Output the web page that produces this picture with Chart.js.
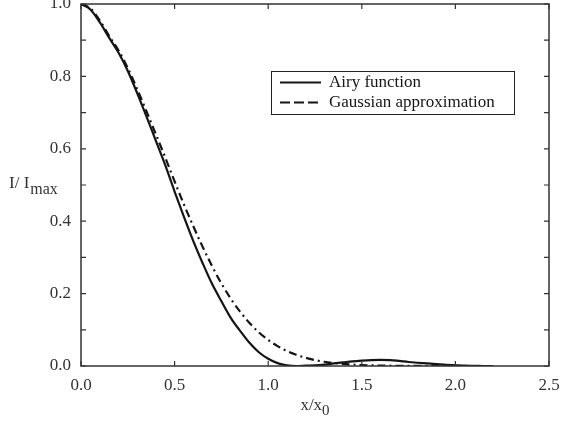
<!DOCTYPE html>
<html lang="en">
<head>
    <meta charset="UTF-8">
    <title>Airy function vs Gaussian approximation</title>
    <style>
        body { margin: 0; background: #fff; }
        canvas { display: block; }
    </style>
</head>
<body>
    <canvas id="airyChart" width="571" height="423"></canvas>

    <script src="https://cdn.jsdelivr.net/npm/chart.js@4.4.1/dist/chart.umd.min.js"></script>
    <script>
        // values
        const xValues = [0.00, 0.05, 0.10, 0.15, 0.20, 0.25, 0.30, 0.35, 0.40, 0.45,
                         0.50, 0.55, 0.60, 0.65, 0.70, 0.75, 0.80, 0.85, 0.90, 0.95,
                         1.00, 1.05, 1.10, 1.15, 1.20, 1.25, 1.30, 1.35, 1.40, 1.45,
                         1.50, 1.55, 1.60, 1.65, 1.70, 1.75, 1.80, 1.85, 1.90, 1.95,
                         2.00, 2.05, 2.10, 2.15, 2.20];
        const airy = [1.000, 0.985, 0.950, 0.907, 0.866, 0.815, 0.754, 0.689, 0.622, 0.555,
                      0.482, 0.412, 0.345, 0.284, 0.227, 0.179, 0.133, 0.097, 0.064, 0.038,
                      0.020, 0.008, 0.002, 0.000, 0.001, 0.002, 0.004, 0.007, 0.010, 0.013,
                      0.015, 0.0165, 0.017, 0.0165, 0.014, 0.011, 0.009, 0.007, 0.005, 0.003,
                      0.002, 0.001, 0.0005, 0.000, 0.000];
        const gauss = [1.000, 0.988, 0.955, 0.912, 0.872, 0.823, 0.765, 0.703, 0.640, 0.576,
                       0.510, 0.446, 0.386, 0.329, 0.276, 0.228, 0.186, 0.150, 0.119, 0.093,
                       0.072, 0.055, 0.0415, 0.031, 0.0227, 0.0164, 0.0117, 0.0083, 0.0058, 0.0040,
                       0.0027, 0.0018, 0.0012, 0.0008, 0.0005, 0.0003, 0.0002, 0.0001, 0.0001, 0.0,
                       0.0, 0.0, 0.0, 0.0, 0.0];
        const seriesNames = ['Airy function', 'Gaussian approximation'];
        const yTickLabels = ['0.0', '0.2', '0.4', '0.6', '0.8', '1.0'];

        const serif = '"Liberation Serif", "DejaVu Serif", serif';
        const ink = '#151515';

        function pts(ys) {
            return xValues.map((x, i) => ({ x: x, y: ys[i] }));
        }

        // frame, inward ticks, axis titles and legend box
        const decorations = {
            id: 'decorations',
            afterDraw(chart) {
                const ctx = chart.ctx;
                const ca = chart.chartArea;
                const xs = chart.scales.x, ys = chart.scales.y;
                ctx.save();
                ctx.strokeStyle = '#333';
                ctx.lineWidth = 1.5;
                ctx.strokeRect(ca.left, ca.top, ca.right - ca.left, ca.bottom - ca.top);

                ctx.lineWidth = 1.2;
                ctx.beginPath();
                xs.ticks.forEach(t => {
                    const px = xs.getPixelForValue(t.value);
                    ctx.moveTo(px, ca.bottom); ctx.lineTo(px, ca.bottom - 5);
                    ctx.moveTo(px, ca.top); ctx.lineTo(px, ca.top + 5);
                });
                ys.ticks.forEach(t => {
                    const py = ys.getPixelForValue(t.value);
                    ctx.moveTo(ca.left, py); ctx.lineTo(ca.left + 5, py);
                    ctx.moveTo(ca.right, py); ctx.lineTo(ca.right - 5, py);
                });
                ctx.stroke();

                // y title: I/ I_max
                ctx.fillStyle = '#333';
                ctx.textBaseline = 'alphabetic';
                ctx.textAlign = 'left';
                const yMid = (ca.top + ca.bottom) / 2;
                ctx.font = '17px ' + serif;
                ctx.fillText('I/ I', 9, yMid + 3);
                const w1 = ctx.measureText('I/ I').width;
                ctx.font = '16px ' + serif;
                ctx.fillText('max', 9 + w1 + 1, yMid + 9);

                // x title: x/x_0
                ctx.font = '17px ' + serif;
                const main = 'x/x';
                const wm = ctx.measureText(main).width;
                ctx.font = '15px ' + serif;
                const ws = ctx.measureText('0').width;
                const xStart = (ca.left + ca.right) / 2 - (wm + ws) / 2;
                ctx.font = '17px ' + serif;
                ctx.fillText(main, xStart, 410);
                ctx.font = '15px ' + serif;
                ctx.fillText('0', xStart + wm, 415);

                // legend
                ctx.strokeStyle = '#222';
                ctx.lineWidth = 1;
                ctx.strokeRect(271.5, 71.5, 243, 43);
                ctx.font = '17px ' + serif;
                ctx.textBaseline = 'middle';
                ctx.fillStyle = ink;
                const rows = [82.5, 102.5];
                chart.data.datasets.forEach((ds, i) => {
                    ctx.beginPath();
                    ctx.strokeStyle = ink;
                    ctx.lineWidth = 2;
                    ctx.setLineDash(i === 0 ? [] : [10, 4]);
                    ctx.moveTo(280, rows[i]);
                    ctx.lineTo(321, rows[i]);
                    ctx.stroke();
                    ctx.setLineDash([]);
                    ctx.fillText(seriesNames[i], 329, rows[i]);
                });
                ctx.restore();
            }
        };

        const ctx = document.getElementById('airyChart').getContext('2d');
        const myChart = new Chart(ctx, {
            type: 'line',
            data: {
                datasets: [{
                    label: seriesNames[0],
                    data: pts(airy),
                    borderColor: ink,
                    borderWidth: 2.2,
                    pointRadius: 0,
                    cubicInterpolationMode: 'monotone',
                    fill: false
                }, {
                    label: seriesNames[1],
                    data: pts(gauss),
                    borderColor: ink,
                    borderWidth: 2.2,
                    borderDash: [8, 4, 2, 4],
                    pointRadius: 0,
                    cubicInterpolationMode: 'monotone',
                    fill: false
                }]
            },
            options: {
                responsive: false,
                animation: false,
                devicePixelRatio: 1,
                layout: { padding: { top: 4, right: 22, left: 0, bottom: 0 } },
                plugins: {
                    legend: { display: false },
                    tooltip: { enabled: false }
                },
                scales: {
                    x: {
                        type: 'linear',
                        min: 0, max: 2.5,
                        grid: { display: false, drawTicks: false },
                        border: { display: false },
                        ticks: {
                            stepSize: 0.5,
                            padding: 9,
                            color: '#333',
                            font: { family: serif, size: 17 },
                            maxRotation: 0,
                            callback: v => v.toFixed(1)
                        },
                        afterFit: s => { s.height = 57; s.paddingLeft = 0; s.paddingRight = 0; }
                    },
                    y: {
                        min: 0, max: 1.0,
                        grid: { display: false, drawTicks: false },
                        border: { display: false },
                        ticks: {
                            stepSize: 0.1,
                            padding: 10,
                            color: '#333',
                            autoSkip: false,
                            font: { family: serif, size: 17 },
                            callback: v => {
                                const lbl = v.toFixed(1);
                                return yTickLabels.includes(lbl) ? lbl : '';
                            }
                        },
                        afterFit: s => { s.width = 81; s.paddingTop = 0; s.paddingBottom = 0; }
                    }
                }
            },
            plugins: [decorations]
        });
    </script>
</body>
</html>
